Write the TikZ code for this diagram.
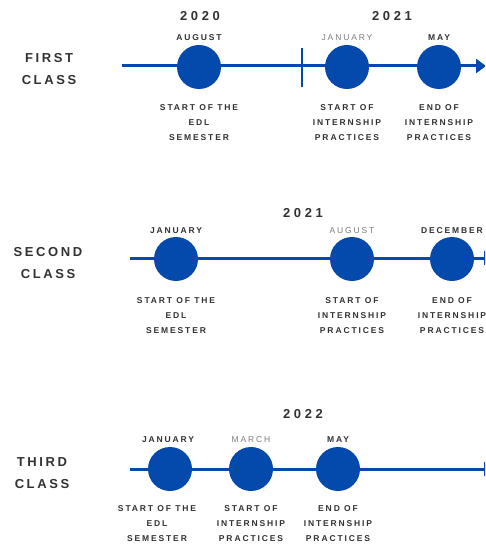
\documentclass[tikz,border=0pt]{standalone}
\usepackage{fontspec}
\setmainfont{Liberation Sans}
\newfontfamily\yrfont[LetterSpace=28]{Liberation Sans}
\newfontfamily\clfont[LetterSpace=20]{Liberation Sans}
\newfontfamily\smfont[LetterSpace=22]{Liberation Sans}
\usetikzlibrary{arrows.meta}
\definecolor{tblue}{RGB}{4,74,172}
\definecolor{tgray}{RGB}{50,50,50}
\definecolor{mgray}{RGB}{125,125,125}
\begin{document}
\begin{tikzpicture}[x=1pt,y=-1pt,
  dot/.style={circle,fill=tblue,minimum size=44pt,inner sep=0pt},
  tline/.style={draw=tblue,line width=3pt,-{Triangle[length=10pt,width=14pt]}},
  tick/.style={draw=tblue,line width=2pt},
  year/.style={anchor=base,inner sep=0pt,text=tgray,font=\yrfont\bfseries\fontsize{13}{13}\selectfont},
  cls/.style={anchor=base,inner sep=0pt,text=tgray,align=center,font=\clfont\bfseries\fontsize{13}{22}\selectfont},
  month/.style={anchor=base,inner sep=0pt,text=tgray,font=\smfont\bfseries\fontsize{8.5}{15}\selectfont},
  gmonth/.style={anchor=base,inner sep=0pt,text=mgray,font=\smfont\fontsize{8.5}{15}\selectfont},
  desc/.style={anchor=base,inner sep=0pt,text=tgray,align=center,font=\smfont\bfseries\fontsize{8.5}{15}\selectfont}
]
\clip (0,0) rectangle (485,545);
\fill[white] (0,0) rectangle (485,545);

% ---------- first class ----------
\node[cls] (cl1) at (49,85) {FIRST\\CLASS};
\node[year] (y1a) at (200,21) {2020};
\node[year] (y1b) at (392,21) {2021};
\coordinate (s1) at (122,66);
\coordinate (e1) at (486,66);
\draw[tline] (s1) -- (e1);
\coordinate (t1a) at (302,48);
\coordinate (t1b) at (302,87);
\draw[tick] (t1a) -- (t1b);
\node[dot] (d11) at (199,67) {};
\node[dot] (d12) at (347,67) {};
\node[dot] (d13) at (439,67) {};
\node[month] (m11) at (199,41) {AUGUST};
\node[gmonth] (m12) at (347,41) {JANUARY};
\node[month] (m13) at (439,41) {MAY};
\node[desc] (x11) at (199,141) {START OF THE\\EDL\\SEMESTER};
\node[desc] (x12) at (347,141) {START OF\\INTERNSHIP\\PRACTICES};
\node[desc] (x13) at (439,141) {END OF\\INTERNSHIP\\PRACTICES};

% ---------- second class ----------
\node[cls] (cl2) at (48,278) {SECOND\\CLASS};
\node[year] (y2) at (303,217) {2021};
\coordinate (s2) at (130,258);
\coordinate (e2) at (494,258);
\draw[tline] (s2) -- (e2);
\node[dot] (d21) at (176,259) {};
\node[dot] (d22) at (352,259) {};
\node[dot] (d23) at (452,259) {};
\node[month] (m21) at (176,233) {JANUARY};
\node[gmonth] (m22) at (352,233) {AUGUST};
\node[month] (m23) at (452,233) {DECEMBER};
\node[desc] (x21) at (176,333) {START OF THE\\EDL\\SEMESTER};
\node[desc] (x22) at (352,333) {START OF\\INTERNSHIP\\PRACTICES};
\node[desc] (x23) at (452,333) {END OF\\INTERNSHIP\\PRACTICES};

% ---------- third class ----------
\node[cls] (cl3) at (42,488) {THIRD\\CLASS};
\node[year] (y3) at (303,418) {2022};
\coordinate (s3) at (130,469);
\coordinate (e3) at (494,469);
\draw[tline] (s3) -- (e3);
\node[dot] (d31) at (170,469) {};
\node[dot] (d32) at (251,469) {};
\node[dot] (d33) at (338,469) {};
\node[month] (m31) at (168,442) {JANUARY};
\node[gmonth] (m32) at (251,442) {MARCH};
\node[month] (m33) at (338,442) {MAY};
\node[desc] (x31) at (157,541) {START OF THE\\EDL\\SEMESTER};
\node[desc] (x32) at (251,541) {START OF\\INTERNSHIP\\PRACTICES};
\node[desc] (x33) at (338,541) {END OF\\INTERNSHIP\\PRACTICES};
\end{tikzpicture}
\end{document}
